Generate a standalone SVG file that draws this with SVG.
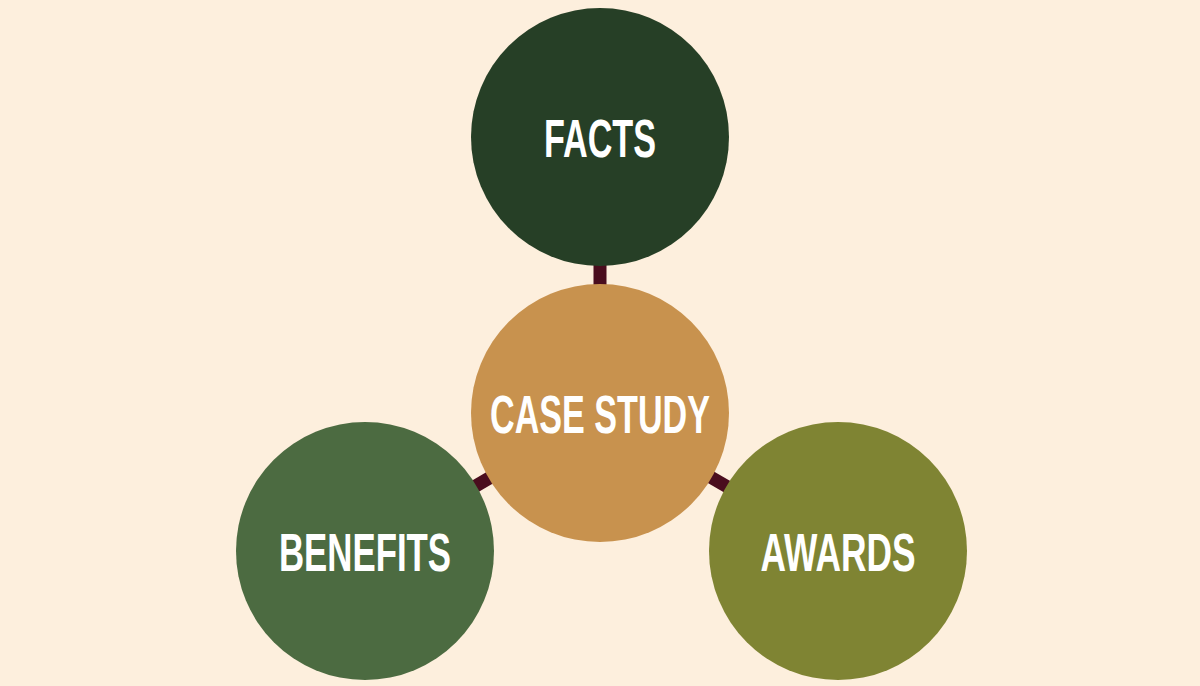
<svg xmlns="http://www.w3.org/2000/svg" width="1200" height="686" viewBox="0 0 1200 686">
<style>
.t{font-family:"Liberation Sans",Arial,sans-serif;font-weight:bold;font-size:54px;fill:#fff;text-anchor:middle}
.c{stroke:#4a0d1e;stroke-width:13}
</style>
<rect width="1200" height="686" fill="#fdefdd"/>
<g id="connectors">
<line class="c" x1="600" y1="137" x2="600" y2="413"/>
<line class="c" x1="600" y1="413" x2="365" y2="551"/>
<line class="c" x1="600" y1="413" x2="838" y2="551"/>
</g>
<g id="facts"><circle cx="600" cy="137" r="129" fill="#263f26"/><text class="t" x="600" y="157" textLength="112" lengthAdjust="spacingAndGlyphs">FACTS</text></g>
<g id="case"><circle cx="600" cy="413" r="129" fill="#c8924e"/><text class="t" x="600" y="433" textLength="220" lengthAdjust="spacingAndGlyphs">CASE STUDY</text></g>
<g id="benefits"><circle cx="365" cy="551" r="129" fill="#4c6b41"/><text class="t" x="365" y="571" textLength="172" lengthAdjust="spacingAndGlyphs">BENEFITS</text></g>
<g id="awards"><circle cx="838" cy="551" r="129" fill="#7f8433"/><text class="t" x="838" y="571" textLength="155" lengthAdjust="spacingAndGlyphs">AWARDS</text></g>
</svg>
